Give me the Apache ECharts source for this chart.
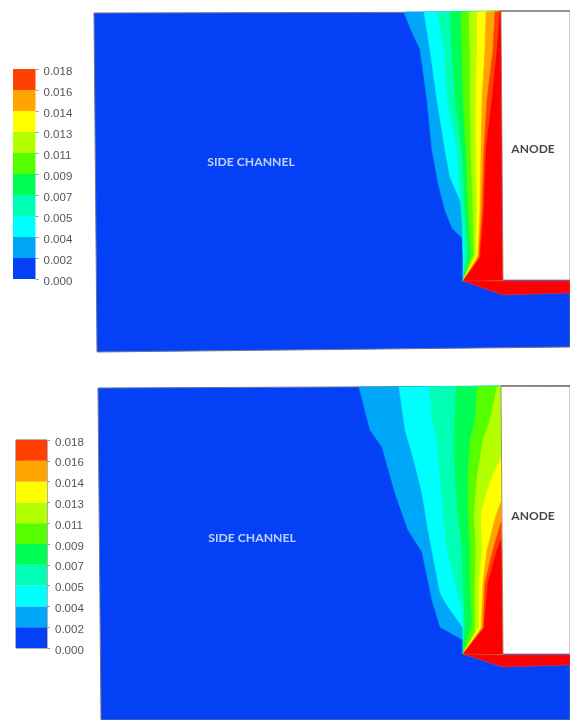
<!DOCTYPE html>
<html><head><meta charset="utf-8">
<style>html,body{margin:0;padding:0;background:#fff}#c{width:570px;height:720px}</style>
<script src="https://cdn.jsdelivr.net/npm/echarts@6/dist/echarts.min.js"></script>
</head><body><div id="c"></div>
<script>
const tickLabels = ['0.000','0.002','0.004','0.005','0.007','0.009','0.011','0.013','0.014','0.016','0.018'];
const bandColors = ['#0440f6','#00a6f8','#00ffff','#00ffb4','#00ff55','#55ff00','#b4ff00','#ffff00','#ffa400','#ff4000'];
const redColor = '#ff0000';
const bandSteps = [1,1,1,1,1,1,1,1,1,1];

const panel1Domain = [[94,13],[570,12],[570,347],[97,352]];
const panel1Anode = [[501,11],[570,11],[570,280],[503,280]];
const panel1Tip = [463,281];
const panel1Under = [[503,295],[570,293],[570,281],[503,281]];
const panel1Lines = [
 [[404,12],[411,30],[420,49],[427,100],[432,150],[438,183],[445,210],[452,228],[462,238],[463,257]],
 [[424,12],[430,50],[437,100],[445,150],[450,177],[462,205],[463,257]],
 [[437,12],[444,50],[447,100],[457,150],[461,210],[465,255]],
 [[450,12],[452,50],[455,100],[462,150],[465,210],[468,255]],
 [[461,12],[462,50],[463,100],[466,150],[468,210],[471,255]],
 [[469,12],[470,50],[470,100],[471,150],[473,210],[474,255]],
 [[477,12],[477,50],[476,100],[476,150],[477,210],[476,256]],
 [[486,12],[485,50],[482,100],[481,150],[480,210],[478,256]],
 [[495,12],[493,50],[487,100],[484,150],[482,210],[479,257]],
 [[500,12],[497,50],[492,100],[486,150],[484,210],[480,258]]
];

const panel2Domain = [[98,388],[570,386],[570,720],[101,720]];
const panel2Anode = [[501,386],[570,386],[570,654],[503,654]];
const panel2Tip = [463,654];
const panel2Under = [[503,667],[570,665],[570,655],[503,655]];
const panel2Lines = [
 [[359,387],[370,430],[382,447],[395,493],[408,530],[422,552],[432,600],[440,627],[463,640]],
 [[399,387],[405,430],[413,457],[422,493],[428,530],[440,593],[447,605],[463,628]],
 [[429,387],[432,420],[437,440],[440,477],[443,513],[447,550],[455,583],[463,613]],
 [[456,387],[454,440],[455,477],[458,513],[462,550],[463,583],[465,625]],
 [[477,387],[475,420],[470,440],[468,477],[468,513],[470,550],[470,583],[472,622]],
 [[497,387],[490,420],[483,440],[477,477],[474,513],[476,550],[475,583],[475,633]],
 [[501,458],[492,477],[486,495],[481,513],[482,550],[479,583],[479,627]],
 [[501,502],[496,515],[487,550],[483,583],[481,628]],
 [[501,522],[493,550],[485,583],[483,628]],
 [[501,540],[497,550],[488,583],[484,628]]
];

const sideLabels = [[251,162,'SIDE CHANNEL'],[252,538,'SIDE CHANNEL']];
const anodeLabels = [[533,149,'ANODE'],[533,516,'ANODE']];
const panel1TopEdge = [[501,11],[570,11]];
const panel2TopEdge = [[501,386],[570,386]];

function panelShapes(domain, anode, tip, under, lines) {
  const blue = bandColors[0], out = [];
  out.push({pts: domain, fill: blue, stroke:'#6f7890', w:1});
  lines.forEach((ln, i) => {
    const fill = i === lines.length - 1 ? redColor : bandColors[i + 1];
    const pts = ln.concat([tip, anode[3]]);
    if (ln[0][0] < anode[0][0]) pts.push(anode[0]);
    out.push({pts, fill, stroke: fill, w:0.5});
  });
  out.push({pts: [tip].concat(under), fill: redColor, stroke:'#d04050', w:0.6});
  out.push({pts: anode, fill:'#ffffff', stroke:'#a87070', w:0.8});
  return out;
}
const shapes = panelShapes(panel1Domain,panel1Anode,panel1Tip,panel1Under,panel1Lines)
  .concat(panelShapes(panel2Domain,panel2Anode,panel2Tip,panel2Under,panel2Lines));
const edges = [panel1TopEdge, panel2TopEdge];

function barSeries(axisIndex){
  return bandSteps.map((v,i)=>({
    type:'bar', xAxisIndex:axisIndex, yAxisIndex:axisIndex, stack:'s'+axisIndex,
    barWidth:'100%', data:[v], itemStyle:{color:bandColors[i]}, silent:true
  }));
}
function legendAxis(idx){
  return {gridIndex:idx,type:'value',min:0,max:10,interval:1,position:'right',
    axisLine:{show:false},splitLine:{show:false},
    axisTick:{show:true,length:3,lineStyle:{color:'#999',width:1}},
    axisLabel:{show:true,margin:8,fontFamily:'Liberation Sans',fontSize:11.5,color:'#555',
      formatter:(v)=>tickLabels[v],showMinLabel:true,showMaxLabel:true,
      verticalAlign:'top',lineHeight:5}};
}
const chart = echarts.init(document.getElementById('c'),null,{renderer:'canvas'});
chart.setOption({
  animation:false,
  backgroundColor:'#ffffff',
  grid:[
    {left:0,top:0,width:570,height:720},
    {left:13,top:69,width:22.5,height:210},
    {left:16,top:440,width:31,height:208,show:true,borderColor:'#666',borderWidth:1}
  ],
  xAxis:[
    {gridIndex:0,type:'value',min:0,max:570,show:false},
    {gridIndex:1,type:'category',data:[''],show:false},
    {gridIndex:2,type:'category',data:[''],show:false}
  ],
  yAxis:[
    {gridIndex:0,type:'value',min:0,max:720,inverse:true,show:false},
    legendAxis(1),
    legendAxis(2)
  ],
  series:[
    {type:'custom',xAxisIndex:0,yAxisIndex:0,silent:true,clip:false,z:2,
     data:shapes.map((s,i)=>[i]),
     renderItem:(p,api)=>{
       const s=shapes[p.dataIndex];
       return {type:'polygon',shape:{points:s.pts.map(q=>api.coord(q))},
         style:{fill:s.fill,stroke:s.stroke,lineWidth:s.w}};
     }},
    {type:'custom',xAxisIndex:0,yAxisIndex:0,silent:true,clip:false,z:3,
     data:edges.map((s,i)=>[i]),
     renderItem:(p,api)=>{
       const e=edges[p.dataIndex];
       return {type:'polyline',shape:{points:e.map(q=>api.coord(q))},
         style:{fill:null,stroke:'#555',lineWidth:1}};
     }},
    {type:'scatter',xAxisIndex:0,yAxisIndex:0,symbolSize:0,z:4,silent:true,
     data:sideLabels,
     label:{show:true,position:'inside',formatter:p=>p.value[2],color:'#eef4ff',
       fontFamily:'Lato',fontWeight:'bold',fontSize:12.2}},
    {type:'scatter',xAxisIndex:0,yAxisIndex:0,symbolSize:0,z:4,silent:true,
     data:anodeLabels,
     label:{show:true,position:'inside',formatter:p=>p.value[2],color:'#151515',
       fontFamily:'Lato',fontWeight:'bold',fontSize:12}},
    ...barSeries(1),
    ...barSeries(2)
  ]
});
</script></body></html>
